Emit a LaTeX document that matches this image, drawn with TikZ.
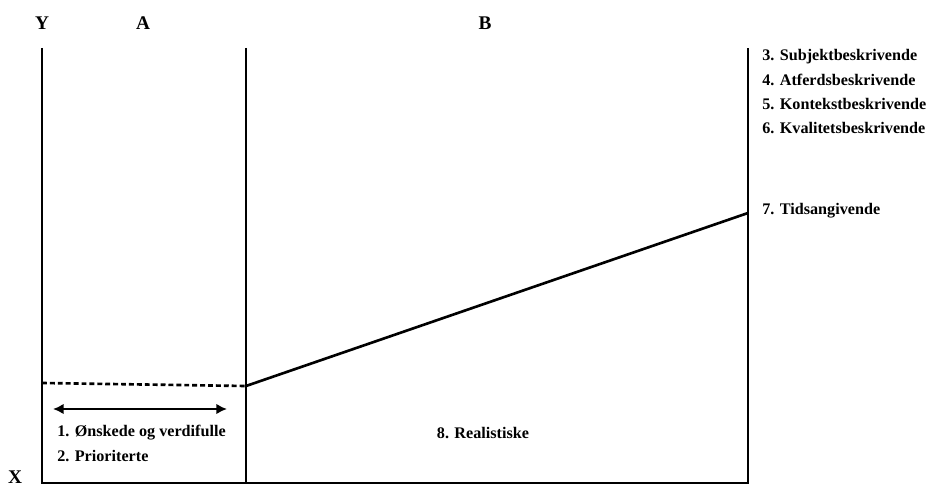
\documentclass[tikz,border=0pt]{standalone}
\usepackage{fontspec}
\setmainfont{Liberation Serif}
\usetikzlibrary{arrows.meta}
\begin{document}
\begin{tikzpicture}[x=0.02cm,y=-0.02cm,
    lbl/.style={font=\bfseries\fontsize{9.2}{10}\selectfont, anchor=west, inner sep=0pt},
    head/.style={font=\bfseries\fontsize{11}{12}\selectfont, inner sep=0pt},
    wall/.style={line width=1.5pt}]
    \useasboundingbox (0,0) rectangle (929,486);
    % axes and walls
    \coordinate (ytop) at (42,48);
    \coordinate (ybot) at (42,483);
    \coordinate (mtop) at (246,48);
    \coordinate (mbot) at (246,483);
    \coordinate (rtop) at (748,48);
    \coordinate (rbot) at (748,483);
    \draw[wall] (ytop) -- (ybot) -- (rbot) -- (rtop);
    \draw[wall] (mtop) -- (mbot);
    % level lines
    \coordinate (dleft) at (42,383);
    \coordinate (dright) at (246,386);
    \coordinate (tid) at (748,213);
    \draw[wall, dash pattern=on 2.8pt off 1.7pt] (dleft) -- (dright);
    \draw[wall] (dright) -- (tid);
    \coordinate (aleft) at (53,409);
    \coordinate (aright) at (227,409);
    \draw[wall, {Latex[length=6pt,width=6pt]}-{Latex[length=6pt,width=6pt]}] (aleft) -- (aright);
    % headings
    \node[head] (y) at (42,23) {Y};
    \node[head] (a) at (143,23) {A};
    \node[head] (b) at (485,23) {B};
    \node[head] (x) at (15,477) {X};
    % labels
    \node[lbl] (l3) at (762,57) {3. Subjektbeskrivende};
    \node[lbl] (l4) at (762,80) {4. Atferdsbeskrivende};
    \node[lbl] (l5) at (762,104) {5. Kontekstbeskrivende};
    \node[lbl] (l6) at (762,128) {6. Kvalitetsbeskrivende};
    \node[lbl] (l7) at (762,211) {7. Tidsangivende};
    \node[lbl] (l1) at (57,433) {1. Ønskede og verdifulle};
    \node[lbl] (l2) at (57,456) {2. Prioriterte};
    \node[lbl, anchor=center] (l8) at (483,433) {8. Realistiske};
\end{tikzpicture}
\end{document}
